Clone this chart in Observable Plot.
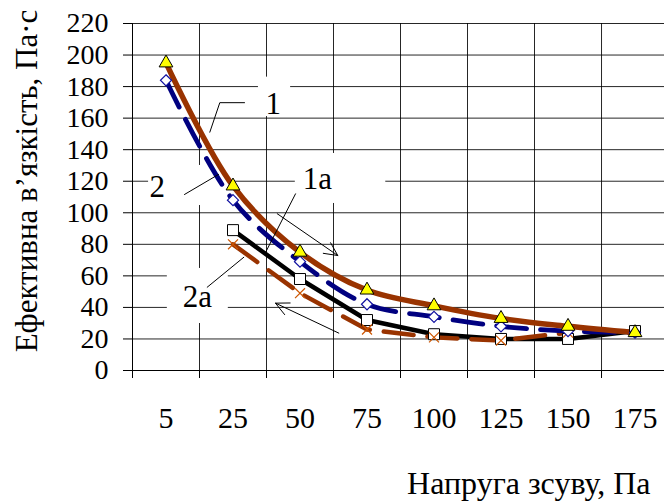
<!DOCTYPE html>
<html><head><meta charset="utf-8">
<script src="https://cdn.jsdelivr.net/npm/d3@7"></script>
<script src="https://cdn.jsdelivr.net/npm/@observablehq/plot@0.6"></script>
<style>
html,body{margin:0;padding:0;background:#fff;overflow:hidden}
svg text, svg tspan { font-family: "Liberation Serif", "Times New Roman", "DejaVu Serif", serif !important; }
</style>
</head><body><div id="chart"></div>
<script>
// Categories (shear stress, Pa) and series (effective viscosity, Pa·s)
const categories = ["5", "25", "50", "75", "100", "125", "150", "175"];
const series1  = [195, 117, 75, 51, 41, 33, 28, 24];
const series2  = [184, 108, 69, 42, 34, 28, 25, 24];
const series1a = [null, 89, 58, 32, 23, 20, 20, 25];
const series2a = [null, 80, 49, 26, 21, 19, 24, null];
const yTicks = [0, 20, 40, 60, 80, 100, 120, 140, 160, 180, 200, 220];

// Annotations (in data coordinates: x = category index, y = value)
const labelTexts = ["1", "2", "1a", "2a"];
const labelX = [1.60, -0.13, 2.26, 0.47];
const labelY = [169, 116, 121.5, 46.3];
const boxX1 = [1.38, -0.26, 1.93, 0.02];
const boxX2 = [1.86, 0.92, 3.28, 0.93];
const boxY1 = [161, 104.6, 105.9, 29.8];
const boxY2 = [186, 130, 137.6, 64.7];
const leaders = [
  [[1.172, 169.8], [0.803, 169.8], [0.654, 151.1]],
  [[0.276, 111.6], [0.784, 124.3]],
  [[1.933, 112.0], [1.485, 74.8]],
  [[0.615, 52.8], [1.161, 71.8]]
];
const arrows = [
  {x1: 1.66, y1: 99.4, x2: 2.564, y2: 72.9},
  {x1: 2.579, y1: 23.7, x2: 1.634, y2: 42.7}
];

const FONT = "Liberation Serif, Times New Roman, DejaVu Serif, serif";
const FS = 31;
const idx = categories.map((_, i) => i);
const boundaries = d3.range(-0.5, 7, 1);
const inner = boundaries.slice(1);
const rows = vals => vals.map((v, i) => ({i, v})).filter(d => d.v != null);
const labels = labelTexts.map((t, k) => ({t, x: labelX[k], y: labelY[k]}));
const boxes = boxX1.map((_, k) => ({x1: boxX1[k], x2: boxX2[k], y1: boxY1[k], y2: boxY2[k]}));
const leaderRows = leaders.flatMap((pts, k) => pts.map(([x, y]) => ({k, x, y})));

const BROWN = "#993300", NAVY = "#000080";

const chart = Plot.plot({
  width: 664, height: 501,
  marginLeft: 132, marginRight: 0, marginTop: 23, marginBottom: 131,
  x: {type: "linear", domain: [-0.5, 7.44]},
  y: {domain: [0, 220]},
  style: {fontFamily: FONT, fontSize: FS + "px", background: "white", color: "black"},
  marks: [
    Plot.gridY(yTicks, {stroke: "#000", strokeOpacity: 0.85}),
    Plot.gridX(inner, {stroke: "#000", strokeOpacity: 0.85}),
    Plot.ruleX([-0.5], {stroke: "#000"}),
    Plot.ruleY([0], {stroke: "#000"}),
    Plot.axisY(yTicks, {tickSize: 9, tickPadding: 15, fontSize: 28, fontFamily: FONT, label: null}),
    Plot.axisX(boundaries, {tickSize: 8, tickFormat: () => "", label: null}),
    Plot.axisX(idx, {tickSize: 0, tickPadding: 36, tickFormat: i => categories[i], fontSize: 30, fontFamily: FONT, label: null}),
    Plot.rect(boxes, {x1: "x1", x2: "x2", y1: "y1", y2: "y2", fill: "white"}),
    Plot.line(rows(series1a), {x: "i", y: "v", stroke: "#000", strokeWidth: 4.5}),
    Plot.line(rows(series2a), {x: "i", y: "v", stroke: BROWN, strokeWidth: 4.5, strokeDasharray: "30,14"}),
    Plot.line(rows(series2), {x: "i", y: "v", stroke: NAVY, strokeWidth: 4.8, strokeDasharray: "30,14", curve: "catmull-rom"}),
    Plot.line(rows(series1), {x: "i", y: "v", stroke: BROWN, strokeWidth: 5.5, curve: "catmull-rom"}),
    Plot.dot(rows(series1a), {x: "i", y: "v", symbol: "square", r: 6.2, fill: "white", stroke: "#000", strokeWidth: 1}),
    Plot.dot(rows(series2a), {x: "i", y: "v", symbol: "times", r: 4.6, stroke: "#CC5500", strokeWidth: 1.2}),
    Plot.dot(rows(series2), {x: "i", y: "v", symbol: "diamond2", r: 5, fill: "white", stroke: "#1010A0", strokeWidth: 1.2}),
    Plot.dot(rows(series1), {x: "i", y: "v", symbol: "triangle", r: 5.1, fill: "#FFFF00", stroke: "#000", strokeWidth: 1}),
    Plot.line(leaderRows, {x: "x", y: "y", z: "k", stroke: "#000", strokeWidth: 1}),
    Plot.arrow(arrows, {x1: "x1", y1: "y1", x2: "x2", y2: "y2", stroke: "#000", strokeWidth: 1, headLength: 22, headAngle: 52}),
    Plot.text(labels, {x: "x", y: "y", text: "t", fontSize: FS, fontFamily: FONT, fill: "#000", lineAnchor: "middle"}),
    Plot.text(["Ефективна в’язкість, Па·с"], {frameAnchor: "left", dx: -105, dy: -16, rotate: -90, textAnchor: "middle", lineAnchor: "middle", fontSize: FS, fontFamily: FONT, fill: "#000"}),
    Plot.text(["Напруга зсуву, Па"], {frameAnchor: "bottom-right", dx: -14, dy: 113, textAnchor: "end", lineAnchor: "middle", fontSize: 32, fontFamily: FONT, fill: "#000"})
  ]
});
document.getElementById("chart").append(chart);
</script>
</body></html>
